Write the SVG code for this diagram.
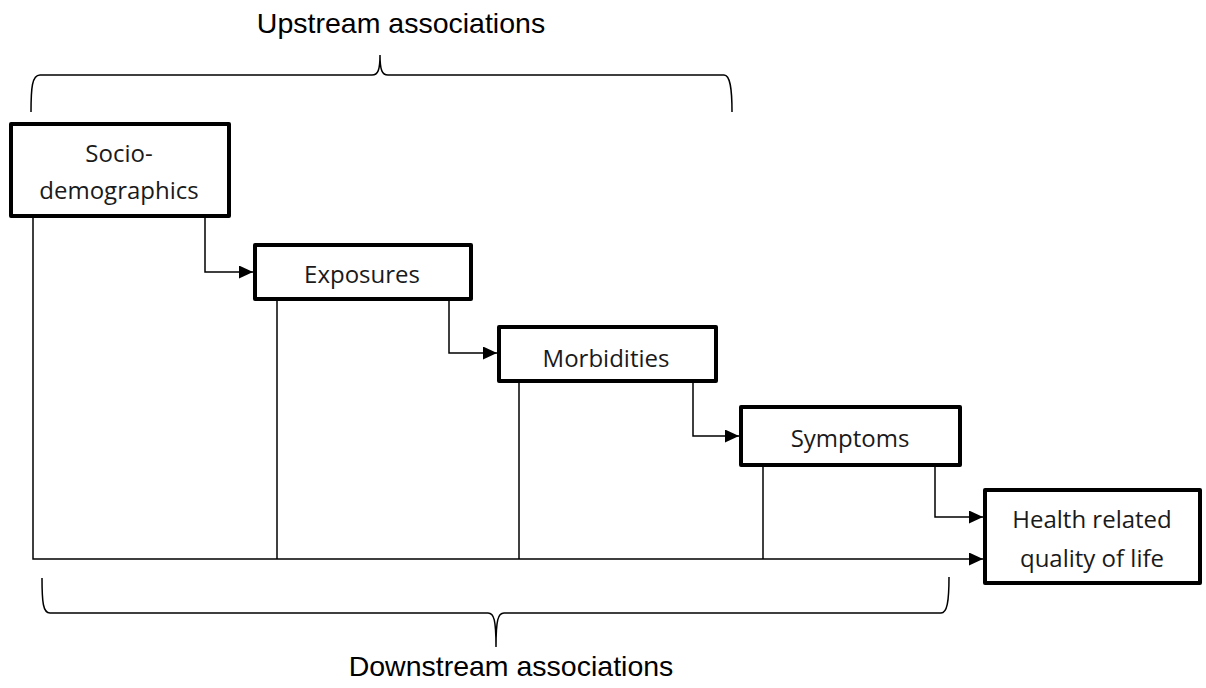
<svg xmlns="http://www.w3.org/2000/svg" width="1206" height="688" viewBox="0 0 1206 688">
<style>
.box{fill:#fff;stroke:#000;stroke-width:4;stroke-linejoin:round}
.nt{font-family:"Open Sans","Noto Sans",sans-serif;font-size:24px;fill:#1a1a1a;text-anchor:middle}
.lbl{font-family:"Liberation Sans",Arial,sans-serif;font-size:28.5px;fill:#000;text-anchor:middle}
.c{fill:none;stroke:#000;stroke-width:1.5}
.br{fill:none;stroke:#000;stroke-width:1.5}
</style>
<defs>
<marker id="ah" markerUnits="userSpaceOnUse" markerWidth="15" markerHeight="13" refX="14" refY="6.5" orient="auto">
<path d="M0,0 L14,6.5 L0,13 Z" fill="#000"/>
</marker>
</defs>
<rect width="1206" height="688" fill="#fff"/>
<g id="braces">
<path class="br" d="M31,112 C31,88 32,75 40,75 L372,75 C378,75 380,70 380,55 C380,70 382,75 388,75 L724,75 C730,75 732,88 732,112"/>
<path class="br" d="M42,578 C42,602 43,613 50,613 L488,613 C494,613 496,620 496,647 C496,620 498,613 504,613 L941,613 C947,613 949,602 949,577"/>
</g>
<g id="connectors">
<path class="c" d="M205,217 L205,272 L253,272" marker-end="url(#ah)"/>
<path class="c" d="M449,301 L449,353 L497,353" marker-end="url(#ah)"/>
<path class="c" d="M693,383 L693,436 L739,436" marker-end="url(#ah)"/>
<path class="c" d="M935,467 L935,517 L983,517" marker-end="url(#ah)"/>
<path class="c" d="M33,217 L33,559 L983,559" marker-end="url(#ah)"/>
<path class="c" d="M277,301 L277,559"/>
<path class="c" d="M519,383 L519,559"/>
<path class="c" d="M763,467 L763,559"/>
</g>
<g id="n-socio">
<rect class="box" x="11" y="124" width="218" height="92"/>
<text class="nt" x="119" y="162">Socio-</text>
<text class="nt" x="119" y="199">demographics</text>
</g>
<g id="n-exposures">
<rect class="box" x="255" y="245" width="216" height="54"/>
<text class="nt" x="362" y="283">Exposures</text>
</g>
<g id="n-morbidities">
<rect class="box" x="499" y="327" width="217" height="54"/>
<text class="nt" x="606" y="367">Morbidities</text>
</g>
<g id="n-symptoms">
<rect class="box" x="741" y="407" width="219" height="58"/>
<text class="nt" x="850" y="447">Symptoms</text>
</g>
<g id="n-hrqol">
<rect class="box" x="985" y="490" width="215" height="93"/>
<text class="nt" x="1092" y="528">Health related</text>
<text class="nt" x="1092" y="567">quality of life</text>
</g>
<g id="labels">
<text class="lbl" x="401" y="33">Upstream associations</text>
<text class="lbl" x="511" y="676">Downstream associations</text>
</g>
</svg>
